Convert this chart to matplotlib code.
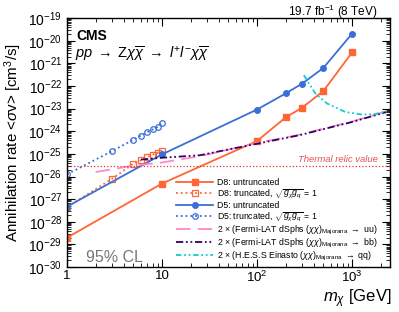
import matplotlib
matplotlib.use("Agg")
import matplotlib.pyplot as plt
from matplotlib.ticker import LogLocator, NullFormatter
import numpy as np

plt.rcParams['font.family'] = ['Liberation Sans', 'DejaVu Sans']
plt.rcParams['mathtext.fontset'] = 'custom'
plt.rcParams['mathtext.rm'] = 'Liberation Sans'
plt.rcParams['mathtext.it'] = 'Liberation Sans:italic'
plt.rcParams['mathtext.bf'] = 'Liberation Sans:bold'

# mass points (GeV) and limits (log10 of <sigma v> in cm^3/s)
m_untr = [1, 10, 100, 200, 300, 500, 1000]
d8_untr = [-28.70, -26.31, -24.43, -23.39, -22.95, -22.22, -20.52]
d5_untr = [-27.33, -25.02, -23.04, -22.33, -21.89, -21.20, -19.69]

m_tr = [1, 3, 5, 6, 7, 8, 9, 10]
d8_tr = [-27.35, -26.09, -25.43, -25.28, -25.14, -25.03, -24.96, -24.87]
d5_tr = [-25.90, -24.87, -24.37, -24.19, -24.04, -23.92, -23.81, -23.62]

m_uu = [2, 5, 10, 25, 100, 275, 1000, 2300]
fermi_uu = [-25.80, -25.52, -25.38, -25.10, -24.52, -24.16, -23.57, -23.12]

m_bb = [6, 10, 25, 100, 275, 1000, 2300]
fermi_bb = [-25.25, -25.17, -25.06, -24.55, -24.18, -23.59, -23.15]

m_hess = [311, 411, 545, 850, 1270, 1700, 2300]
hess_qq = [-21.52, -22.33, -22.77, -23.15, -23.26, -23.25, -23.12]

thermal = 3e-26

y_decades = list(range(-30, -18))
x_ticks = [1, 10, 100, 1000]
x_ticklabels = ['1', '10', r'$10^{2}$', r'$10^{3}$']

fig = plt.figure(figsize=(3.99, 3.12), dpi=100)
ax = fig.add_axes([0.168, 0.144, 0.809, 0.798])

orange = '#ff6633'
blue = '#3a6fd8'

ax.plot(m_untr, 10**np.array(d8_untr), '-', color=orange, lw=1.3, marker='s', ms=4,
        label='D8: untruncated')
ax.plot(m_tr, 10**np.array(d8_tr), ':', color=orange, lw=1.3, marker='s', ms=4,
        mfc='none', mew=0.9, label=r'D8: truncated, $\sqrt{g_{\chi}g_{q}}$ = 1')
ax.plot(m_untr, 10**np.array(d5_untr), '-', color=blue, lw=1.3, marker='o', ms=4,
        label='D5: untruncated')
ax.plot(m_tr, 10**np.array(d5_tr), ':', color=blue, lw=1.3, marker='o', ms=4,
        mfc='none', mew=0.9, label=r'D5: truncated, $\sqrt{g_{\chi}g_{q}}$ = 1')
ax.plot(m_uu, 10**np.array(fermi_uu), color='#ff88cc', lw=1.3, dashes=(8, 4),
        label=r'2 $\times$ (Fermi-LAT dSphs $(\chi\chi)_{\mathrm{Majorana}}$ $\rightarrow$ uu)')
ax.plot(m_bb, 10**np.array(fermi_bb), color='#330066', lw=1.3, dashes=(4, 1.5, 1, 1.5, 1, 1.5),
        label=r'2 $\times$ (Fermi-LAT dSphs $(\chi\chi)_{\mathrm{Majorana}}$ $\rightarrow$ bb)')
ax.plot(m_hess, 10**np.array(hess_qq), color='#11cccc', lw=1.3, dashes=(3, 1.5, 1, 1.5, 1, 1.5),
        label=r'2 $\times$ (H.E.S.S Einasto $(\chi\chi)_{\mathrm{Majorana}}$ $\rightarrow$ qq)')

ax.axhline(thermal, color='#dd3333', lw=0.9, ls=':')
ax.text(0.963, 0.432, 'Thermal relic value', transform=ax.transAxes, ha='right',
        va='center', fontsize=6.8, style='italic', color='#e05555')

ax.set_xscale('log')
ax.set_yscale('log')
ax.set_xlim(1, 2500)
ax.set_ylim(1e-30, 1e-19)
ax.set_yticks([10.0**d for d in y_decades])
ax.set_yticklabels([r'$10^{%d}$' % d for d in y_decades])
ax.yaxis.set_minor_locator(LogLocator(base=10, subs=np.arange(2, 10), numticks=200))
ax.yaxis.set_minor_formatter(NullFormatter())
ax.xaxis.set_minor_locator(LogLocator(base=10, subs=np.arange(2, 10), numticks=50))
ax.xaxis.set_minor_formatter(NullFormatter())
ax.set_xticks(x_ticks)
ax.set_xticklabels(x_ticklabels)
ax.tick_params(which='both', direction='in', top=True, right=True, labelsize=10)
ax.tick_params(which='major', length=6, width=0.8)
ax.tick_params(which='minor', length=3, width=0.6)
ax.tick_params(axis='x', pad=2, labelsize=9.5)
for s in ax.spines.values():
    s.set_linewidth(1.0)

ax.set_ylabel(r'Annihilation rate <$\sigma$v> [cm$^{3}$/s]', fontsize=10.9, labelpad=3)
ax.text(1.005, -0.142, r'$m_{\chi}$ [GeV]', transform=ax.transAxes, fontsize=12,
        ha='right', va='baseline')

ax.text(0.03, 0.93, 'CMS', transform=ax.transAxes, fontsize=10, fontweight='bold',
        va='center')
ax.text(0.025, 0.855,
        r'$pp\;\rightarrow\;\mathrm{Z}\chi\overline{\chi}\;\rightarrow\;l^{+}l^{-}\chi\overline{\chi}$',
        transform=ax.transAxes, fontsize=10.5, va='center')
ax.text(0.963, 1.024, r'19.7 fb$^{-1}$ (8 TeV)', transform=ax.transAxes, ha='right',
        va='center', fontsize=8.5)
ax.text(0.058, 0.04, '95% CL', transform=ax.transAxes, fontsize=11.5, color='#777777',
        va='center')

ax.legend(loc='lower right', bbox_to_anchor=(0.985, -0.012), fontsize=6.3, frameon=False,
          handlelength=4.2, handletextpad=0.5, labelspacing=0.0, borderpad=0.3)

fig.savefig('out.png', dpi=100)
